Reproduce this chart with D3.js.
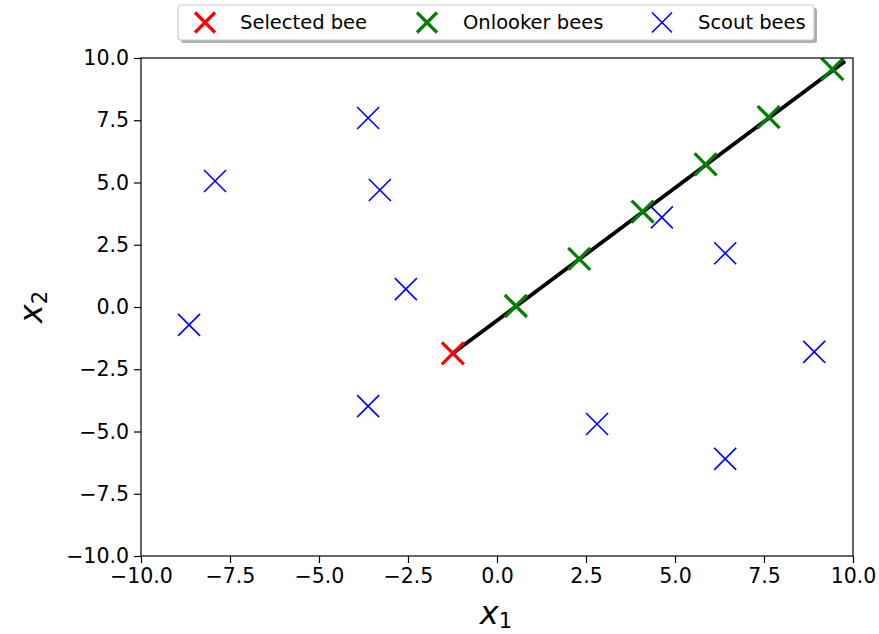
<!DOCTYPE html>
<html>
<head>
<meta charset="utf-8">
<script src="https://cdn.jsdelivr.net/npm/d3@7"></script>
<style>
  body { margin: 0; background: #fff; }
  text { font-family: "DejaVu Sans", sans-serif; }
</style>
</head>
<body>
<script>
// data
const selectedBee = [[-1.24, -1.86]];
const onlookerBees = [[0.53, 0.04], [2.31, 1.93], [4.09, 3.83], [5.86, 5.73], [7.63, 7.63], [9.42, 9.55]];
const scoutBees = [
  [-3.62, 7.59], [-7.92, 5.06], [-3.29, 4.70], [-2.56, 0.72], [-8.65, -0.72],
  [-3.62, -3.98], [2.81, -4.70], [6.41, -6.10], [4.63, 3.60], [6.41, 2.16], [8.91, -1.80]
];
const pathLine = [[-1.24, -1.86], [9.78, 9.87]];
const tickValues = [-10, -7.5, -5, -2.5, 0, 2.5, 5, 7.5, 10];
const legendItems = [
  { label: "Selected bee", color: "red", sw: 3.2 },
  { label: "Onlooker bees", color: "green", sw: 3.2 },
  { label: "Scout bees", color: "blue", sw: 1.6 }
];

const width = 879, height = 634;
const margin = { top: 58, right: 26, bottom: 78, left: 141 };

const svg = d3.select("body").append("svg")
    .attr("width", width)
    .attr("height", height);

const x = d3.scaleLinear().domain([-10, 10]).range([margin.left, width - margin.right]);
const y = d3.scaleLinear().domain([-10, 10]).range([height - margin.bottom, margin.top]);

const fmt = d3.format(".1f");

// axes
const xAxis = svg.append("g")
    .attr("transform", `translate(0,${height - margin.bottom})`)
    .call(d3.axisBottom(x).tickValues(tickValues).tickFormat(fmt).tickSize(7).tickPadding(5));
const yAxis = svg.append("g")
    .attr("transform", `translate(${margin.left},0)`)
    .call(d3.axisLeft(y).tickValues(tickValues).tickFormat(fmt).tickSize(7).tickPadding(5));

[xAxis, yAxis].forEach(g => {
  g.select(".domain").remove();
  g.selectAll("line").attr("stroke", "#000").attr("stroke-width", 1.2);
  g.selectAll("text").attr("font-size", 20.5).attr("fill", "#000")
      .attr("font-family", "DejaVu Sans, sans-serif");
});

// clip to axes
svg.append("clipPath").attr("id", "clip")
  .append("rect")
    .attr("x", margin.left).attr("y", margin.top)
    .attr("width", x(10) - x(-10)).attr("height", y(-10) - y(10));

const plot = svg.append("g").attr("clip-path", "url(#clip)");

function cross(g, pts, color, sw, r) {
  const p = pts.map(d => `M${x(d[0]) - r},${y(d[1]) - r}L${x(d[0]) + r},${y(d[1]) + r}M${x(d[0]) - r},${y(d[1]) + r}L${x(d[0]) + r},${y(d[1]) - r}`).join("");
  g.append("path").attr("d", p).attr("stroke", color).attr("stroke-width", sw).attr("fill", "none");
}

plot.append("path")
    .datum(pathLine)
    .attr("d", d3.line().x(d => x(d[0])).y(d => y(d[1])))
    .attr("stroke", "#000")
    .attr("stroke-width", 3.8)
    .attr("fill", "none");

cross(plot, selectedBee, "red", 3.2, 11);
cross(plot, onlookerBees, "green", 3.2, 11);
cross(plot, scoutBees, "blue", 1.6, 11);

// frame
svg.append("rect")
    .attr("x", margin.left).attr("y", margin.top)
    .attr("width", x(10) - x(-10)).attr("height", y(-10) - y(10))
    .attr("fill", "none").attr("stroke", "#000").attr("stroke-width", 1.2);

// axis labels
const xl = svg.append("text")
    .attr("x", 496).attr("y", 624)
    .attr("text-anchor", "middle")
    .attr("font-size", 32);
xl.append("tspan").attr("font-style", "italic").text("x");
xl.append("tspan").attr("font-size", 21).attr("dy", 4).text("1");

const yl = svg.append("text")
    .attr("transform", `translate(42,${y(0)}) rotate(-90)`)
    .attr("text-anchor", "middle")
    .attr("font-size", 32);
yl.append("tspan").attr("font-style", "italic").text("x");
yl.append("tspan").attr("font-size", 21).attr("dy", 5).text("2");

// legend
const legend = svg.append("g");
legend.append("rect")
    .attr("x", 181).attr("y", 8).attr("width", 636).attr("height", 35).attr("rx", 3)
    .attr("fill", "#999").attr("opacity", 0.8);
legend.append("rect")
    .attr("x", 178).attr("y", 5).attr("width", 636).attr("height", 35).attr("rx", 3)
    .attr("fill", "#fff").attr("stroke", "#ccc").attr("stroke-width", 1.2);

const legendX = [205, 427, 662];
const legendTextX = [240, 463, 698];
legendItems.forEach((item, i) => {
  const cx = legendX[i], cy = 22.5, r = 10;
  legend.append("path")
      .attr("d", `M${cx - r},${cy - r}L${cx + r},${cy + r}M${cx - r},${cy + r}L${cx + r},${cy - r}`)
      .attr("stroke", item.color).attr("stroke-width", item.sw).attr("fill", "none");
  legend.append("text")
      .attr("x", legendTextX[i]).attr("y", 29)
      .attr("font-size", 19.5)
      .text(item.label);
});
</script>
</body>
</html>
